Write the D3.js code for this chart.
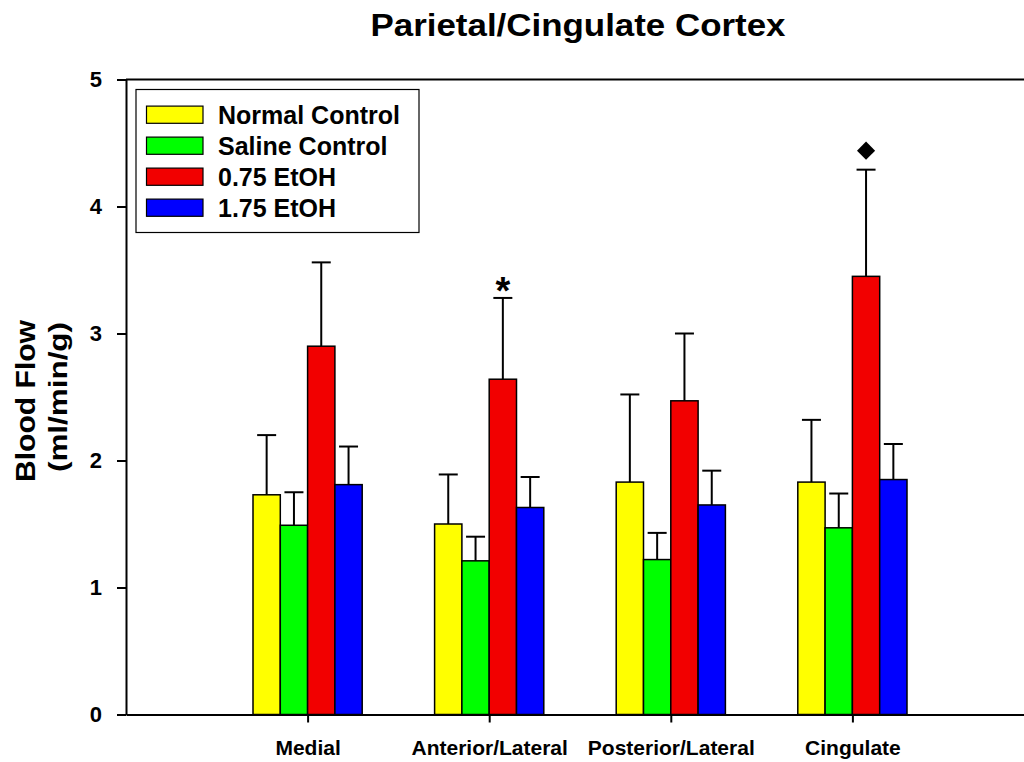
<!DOCTYPE html>
<html>
<head>
<meta charset="utf-8">
<script src="https://cdn.jsdelivr.net/npm/d3@7"></script>
<style>
  html, body { margin: 0; padding: 0; background: #fff; }
  svg { display: block; font-family: "Liberation Sans", Arial, sans-serif; font-weight: bold; }
</style>
</head>
<body>
<svg id="chart" width="1024" height="762"></svg>
<script>
// Regional blood flow (ml/min/g), mean + SEM per treatment group
const regions = ["Medial", "Anterior/Lateral", "Posterior/Lateral", "Cingulate"];
const groups = ["Normal Control", "Saline Control", "0.75 EtOH", "1.75 EtOH"];
const colors = ["#ffff00", "#00ff00", "#f20000", "#0000ff"];

const normalControl     = [1.73, 1.50, 1.83, 1.83];
const normalControlErr  = [0.47, 0.39, 0.69, 0.49];
const salineControl     = [1.49, 1.21, 1.22, 1.47];
const salineControlErr  = [0.26, 0.19, 0.21, 0.27];
const etoh075           = [2.90, 2.64, 2.47, 3.45];
const etoh075Err        = [0.66, 0.64, 0.53, 0.84];
const etoh175           = [1.81, 1.63, 1.65, 1.85];
const etoh175Err        = [0.30, 0.24, 0.27, 0.28];

const yTicks = [0, 1, 2, 3, 4, 5];

// significance markers: [region index, group index, symbol]
const markers = [
  [1, 2, "asterisk"],
  [3, 2, "diamond"]
];

const means = [normalControl, salineControl, etoh075, etoh175];
const errs = [normalControlErr, salineControlErr, etoh075Err, etoh175Err];

const svg = d3.select("#chart");

const x = d3.scaleLinear().domain([0, 5]).range([126, 1034]);
const y = d3.scaleLinear().domain([0, 5]).range([714.5, 79.5]);
const barW = 27.3;
const offset = d3.scaleLinear().domain([0, 4]).range([-2 * barW, 2 * barW]);

const barX = (r, g) => x(r + 1) + offset(g);

// Title
svg.append("text")
  .attr("x", 578).attr("y", 36)
  .attr("text-anchor", "middle")
  .attr("font-size", 32)
  .attr("textLength", 415)
  .attr("lengthAdjust", "spacingAndGlyphs")
  .text("Parietal/Cingulate Cortex");

// Bars
const barData = [];
means.forEach((arr, g) => arr.forEach((v, r) => barData.push({ r, g, v, e: errs[g][r] })));

// Error bars (upper only)
const eb = svg.append("g").attr("stroke", "#000").attr("stroke-width", 2);
barData.forEach(d => {
  const cx = barX(d.r, d.g) + barW / 2;
  eb.append("line").attr("x1", cx).attr("x2", cx)
    .attr("y1", y(d.v)).attr("y2", y(d.v + d.e));
  eb.append("line").attr("x1", cx - 9.5).attr("x2", cx + 9.5)
    .attr("y1", y(d.v + d.e)).attr("y2", y(d.v + d.e));
});

svg.append("g").selectAll("rect").data(barData).join("rect")
  .attr("x", d => barX(d.r, d.g))
  .attr("y", d => y(d.v))
  .attr("width", barW)
  .attr("height", d => y(0) - y(d.v))
  .attr("fill", d => colors[d.g])
  .attr("stroke", "#000")
  .attr("stroke-width", 1.5);

// Significance markers
markers.forEach(([r, g, sym]) => {
  const cx = barX(r, g) + barW / 2;
  const top = y(means[g][r] + errs[g][r]);
  if (sym === "asterisk") {
    svg.append("text").attr("x", cx).attr("y", top + 6)
      .attr("text-anchor", "middle").attr("font-size", 38).text("*");
  } else {
    svg.append("path")
      .attr("transform", `translate(${cx},${top - 19})`)
      .attr("d", d3.symbol(d3.symbolDiamond2, 210)())
      .attr("fill", "#000");
  }
});

// Top frame line
svg.append("line")
  .attr("x1", x(0)).attr("x2", 1024)
  .attr("y1", y(5)).attr("y2", y(5))
  .attr("stroke", "#000").attr("stroke-width", 2);

// Y axis
const yAxis = svg.append("g")
  .attr("transform", `translate(${x(0)},0)`)
  .call(d3.axisLeft(y).tickValues(yTicks).tickFormat(d3.format("d"))
    .tickSize(9).tickSizeOuter(0).tickPadding(15));
yAxis.attr("font-size", 22).attr("font-family", null);
yAxis.select(".domain").attr("stroke-width", 2);
yAxis.selectAll(".tick line").attr("stroke-width", 2);
yAxis.selectAll("text").attr("font-size", 22).attr("fill", "#000");

// X axis
const xAxis = svg.append("g")
  .attr("transform", `translate(0,${y(0)})`)
  .call(d3.axisBottom(x).tickValues([1, 2, 3, 4]).tickFormat(d => regions[d - 1])
    .tickSize(8).tickSizeOuter(0).tickPadding(17.5));
xAxis.attr("font-size", 21).attr("font-family", null);
xAxis.select(".domain").attr("stroke-width", 2);
xAxis.selectAll(".tick line").attr("stroke-width", 2);
xAxis.selectAll("text").attr("font-size", 21).attr("fill", "#000");

// Y axis title
const yt = svg.append("g").attr("text-anchor", "middle").attr("font-size", 28);
yt.append("text")
  .attr("transform", "translate(35,401) rotate(-90)")
  .attr("textLength", 162).attr("lengthAdjust", "spacingAndGlyphs")
  .text("Blood Flow");
yt.append("text")
  .attr("transform", "translate(67,397) rotate(-90)")
  .attr("font-size", 26)
  .attr("textLength", 150).attr("lengthAdjust", "spacingAndGlyphs")
  .text("(ml/min/g)");

// Legend
const legend = svg.append("g");
legend.append("rect")
  .attr("x", 136).attr("y", 89.5).attr("width", 283).attr("height", 143)
  .attr("fill", "#fff").attr("stroke", "#000").attr("stroke-width", 1.2);
groups.forEach((name, i) => {
  const cy = 114.7 + i * 31;
  legend.append("rect")
    .attr("x", 146.5).attr("y", cy - 8.6).attr("width", 56.5).attr("height", 17.2)
    .attr("fill", colors[i]).attr("stroke", "#000").attr("stroke-width", 1.2);
  legend.append("text")
    .attr("x", 218).attr("y", cy + 8.8)
    .attr("font-size", 25)
    .text(name);
});
</script>
</body>
</html>
